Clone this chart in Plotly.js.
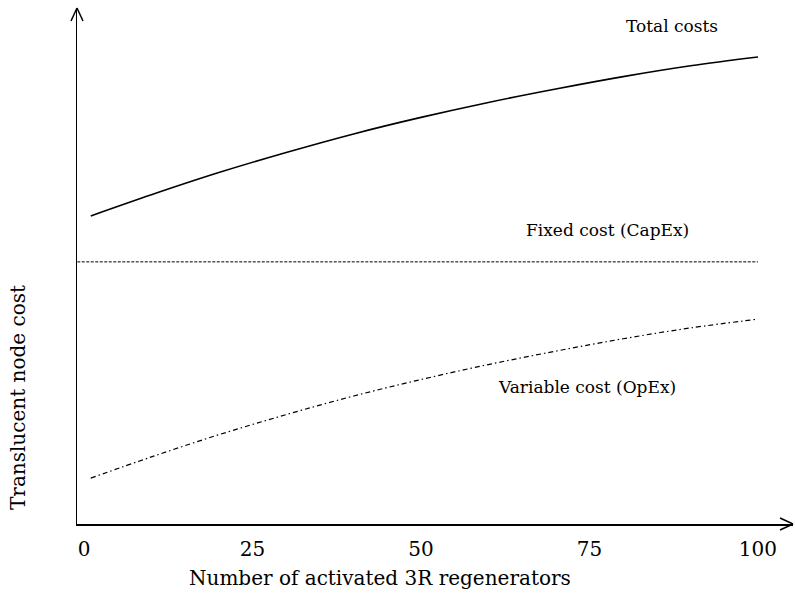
<!DOCTYPE html>
<html>
<head>
<meta charset="utf-8">
<script src="https://cdn.plot.ly/plotly-3.0.1.min.js"></script>
<style>html,body{margin:0;padding:0;background:#fff;}#chart{width:795px;height:603px;}</style>
</head>
<body>
<div id="chart"></div>
<script>
// Number of activated 3R regenerators
var regenerators = [1, 10, 20, 30, 40, 50, 60, 70, 80, 90, 100];
// Cost values (arbitrary units)
var variableCost = [8.9, 13.0, 17.3, 21.2, 24.8, 28.0, 30.9, 33.5, 35.9, 38.0, 39.7];
var totalCost = [59.7, 63.8, 68.1, 72.0, 75.6, 78.8, 81.7, 84.3, 86.7, 88.8, 90.5];
var fixedX = [-1, 100];
var fixedY = [50.8, 50.8];
var xTicks = [0, 25, 50, 75, 100];
var xTickLabels = ['0', '25', '50', '75', '100'];
var seriesLabels = ['Total costs', 'Fixed cost (CapEx)', 'Variable cost (OpEx)'];
var xTitle = 'Number of activated 3R regenerators';
var yTitle = 'Translucent node cost';

var FONT = 'DejaVu Serif, Liberation Serif, serif';

var traces = [
  {x: regenerators, y: totalCost, mode: 'lines', name: seriesLabels[0],
   line: {color: '#000', width: 1.6, shape: 'spline'}},
  {x: fixedX, y: fixedY, mode: 'lines', name: seriesLabels[1],
   line: {color: '#000', width: 1, dash: '3px,1.5px'}},
  {x: regenerators, y: variableCost, mode: 'lines', name: seriesLabels[2],
   line: {color: '#000', width: 1.2, dash: '5px,3px,1.5px,3px', shape: 'spline'}}
];

// plot area: left 77, top 8, width 716, height 516
var W = 716, H = 516;
function px(dx) { return dx / W; }
function py(dy) { return dy / H; }

var layout = {
  width: 795, height: 603,
  margin: {l: 77, r: 2, t: 8, b: 79, pad: 0},
  paper_bgcolor: '#fff', plot_bgcolor: '#fff',
  showlegend: false,
  font: {family: FONT, color: '#000', size: 16},
  xaxis: {
    range: [-1.04, 105.2], showgrid: false, zeroline: false,
    showline: true, linecolor: '#000', linewidth: 1.5,
    tickvals: xTicks, ticktext: xTickLabels, ticks: '',
    ticklabelstandoff: 6,
    tickfont: {family: FONT, size: 20, color: '#000'}
  },
  yaxis: {
    range: [0, 100], showgrid: false, zeroline: false,
    showline: true, linecolor: '#000', linewidth: 1.5,
    showticklabels: false, ticks: ''
  },
  annotations: [
    {xref: 'x', yref: 'y', x: 87.2, y: 96.6, text: seriesLabels[0], showarrow: false,
     font: {family: FONT, size: 17, color: '#000'}},
    {xref: 'x', yref: 'y', x: 77.7, y: 57, text: seriesLabels[1], showarrow: false,
     font: {family: FONT, size: 17, color: '#000'}},
    {xref: 'x', yref: 'y', x: 74.6, y: 26.5, text: seriesLabels[2], showarrow: false,
     font: {family: FONT, size: 17, color: '#000'}},
    {xref: 'paper', yref: 'paper', x: px(380 - 77), y: -py(578 - 524), xanchor: 'center', yanchor: 'middle',
     text: xTitle, showarrow: false, font: {family: FONT, size: 20, color: '#000'}},
    {xref: 'paper', yref: 'paper', x: -px(77 - 18), y: py(524 - 398), xanchor: 'center', yanchor: 'middle',
     text: yTitle, textangle: -90, showarrow: false, font: {family: FONT, size: 20, color: '#000'}}
  ],
  shapes: [
    // y-axis arrowhead
    {type: 'line', xref: 'paper', yref: 'paper', x0: 0, y0: 1, x1: px(-6), y1: 1 - py(13), line: {color: '#000', width: 1.5}},
    {type: 'line', xref: 'paper', yref: 'paper', x0: 0, y0: 1, x1: px(6), y1: 1 - py(13), line: {color: '#000', width: 1.5}},
    // x-axis arrowhead
    {type: 'line', xref: 'paper', yref: 'paper', x0: 1, y0: 0, x1: 1 - px(13), y1: py(6), line: {color: '#000', width: 1.5}},
    {type: 'line', xref: 'paper', yref: 'paper', x0: 1, y0: 0, x1: 1 - px(13), y1: py(-6), line: {color: '#000', width: 1.5}}
  ]
};

Plotly.newPlot('chart', traces, layout, {displayModeBar: false, staticPlot: true});
</script>
</body>
</html>
